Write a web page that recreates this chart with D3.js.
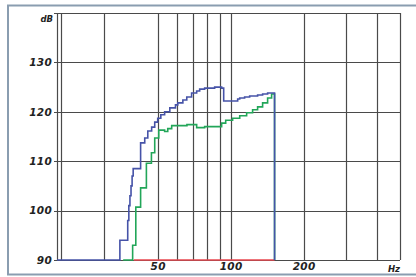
<!DOCTYPE html>
<html><head><meta charset="utf-8">
<script src="https://cdn.jsdelivr.net/npm/d3@7"></script>
<style>
html,body{margin:0;padding:0;background:#fff;}
svg{display:block;}
text{font-family:"DejaVu Sans",sans-serif;font-style:italic;fill:#222;}
</style></head>
<body>
<svg id="chart" width="416" height="277"></svg>
<script>
// Data (frequency in Hz, level in dB), step-after points
const yTicks = [90, 100, 110, 120, 130];
const xLabels = [50, 100, 200];
const xGrid = [20, 30, 50, 60, 70, 80, 90, 100, 200, 300, 400, 500];
const blueFreq = [19.2, 34.9, 37.6, 38.0, 38.4, 38.8, 39.2, 39.6, 42.5, 44.2, 45.5, 47.2, 48.6, 50, 51.5, 53.4, 56.1, 59.2, 60.5, 63.5, 65.9, 69.0, 72.4, 74.5, 78.1, 85.9, 91.8, 93.6, 106.9, 109.0, 114.2, 119.8, 129.2, 135.5, 142.1, 147.6, 151.8];
const blueDb =   [90,   94,   98,   101,  103,  105,  107,  108.5, 113.7, 114.7, 116.1, 116.9, 117.9, 118.7, 119.4, 120.0, 120.8, 121.4, 121.8, 122.4, 123.0, 123.8, 124.2, 124.6, 124.8, 125.0, 124.8, 122.2, 122.6, 122.8, 123.0, 123.2, 123.4, 123.6, 123.8, 123.8, 90];
const greenFreq = [36.0, 39.4, 40.6, 42.5, 44.9, 47.1, 48.6, 50.5, 53.4, 55.0, 57.1, 66.0, 72.4, 78.1, 91.8, 95.4, 101.9, 109.0, 116.4, 123.2, 129.2, 135.5, 142.1, 147.6, 151.8];
const greenDb =   [90,   93.0, 100.7, 104.6, 109.6, 111.7, 114.7, 116.3, 116.0, 116.6, 117.2, 117.4, 116.8, 117.0, 117.7, 118.3, 118.7, 119.2, 119.8, 120.4, 121.0, 121.8, 122.8, 123.6, 90];
const redFreq = [39.8, 151.8];
const redDb = [90, 90];

const svg = d3.select("#chart");
const x = d3.scaleLog().domain([19.2, 500]).range([57, 400]);
const y = d3.scaleLinear().domain([90, 140]).range([260, 13]);

// frame
svg.append("rect").attr("x", 8).attr("y", 5.5).attr("width", 420).attr("height", 269)
  .attr("fill", "#fff").attr("stroke", "#8a9db0").attr("stroke-width", 2);

// grid
const g = svg.append("g").attr("stroke", "#4a4a4a").attr("stroke-width", 1.2);
g.selectAll("line.v").data([19.2].concat(xGrid)).join("line")
  .attr("x1", d => Math.round(x(d)) + 0.5).attr("x2", d => Math.round(x(d)) + 0.5)
  .attr("y1", y(140)).attr("y2", y(90));
g.selectAll("line.h").data([90, 100, 110, 120, 130, 140]).join("line")
  .attr("y1", d => Math.round(y(d)) + 0.5).attr("y2", d => Math.round(y(d)) + 0.5)
  .attr("x1", x(19.2) - 3).attr("x2", x(500));

// curves
const line = d3.line().x(d => x(d[0])).y(d => y(d[1])).curve(d3.curveStepAfter);
function series(f, v, color) {
  svg.append("path").datum(f.map((d, i) => [d, v[i]]))
    .attr("d", line).attr("fill", "none").attr("stroke", color)
    .attr("stroke-width", 1.6);
}
series(redFreq, redDb, "#e8474f");
series(greenFreq, greenDb, "#22a659");
series(blueFreq, blueDb, "#4653a8");

// y axis labels
const ya = svg.append("g").attr("transform", `translate(${x(19.2)},0)`)
  .call(d3.axisLeft(y).tickValues(yTicks).tickSize(0).tickPadding(5));
ya.select(".domain").remove();
ya.selectAll("text").attr("font-size", 10.5).attr("font-family", null).attr("fill", "#222")
  .attr("font-weight", "bold").style("letter-spacing", "0.3px");
svg.append("text").attr("x", 53).attr("y", 22).attr("text-anchor", "end")
  .attr("font-size", 8.5).attr("font-weight", "bold").text("dB");

// x axis labels
const xa = svg.append("g").attr("transform", `translate(0,${y(90)})`)
  .call(d3.axisBottom(x).tickValues(xLabels).tickSize(0).tickPadding(3).tickFormat(d3.format("d")));
xa.select(".domain").remove();
xa.selectAll("text").attr("font-size", 10.5).attr("font-family", null).attr("fill", "#222")
  .attr("font-weight", "bold").style("letter-spacing", "0.3px");
svg.append("text").attr("x", 400).attr("y", 272).attr("text-anchor", "end")
  .attr("font-size", 8.5).attr("font-weight", "bold").text("Hz");
</script>
</body></html>
